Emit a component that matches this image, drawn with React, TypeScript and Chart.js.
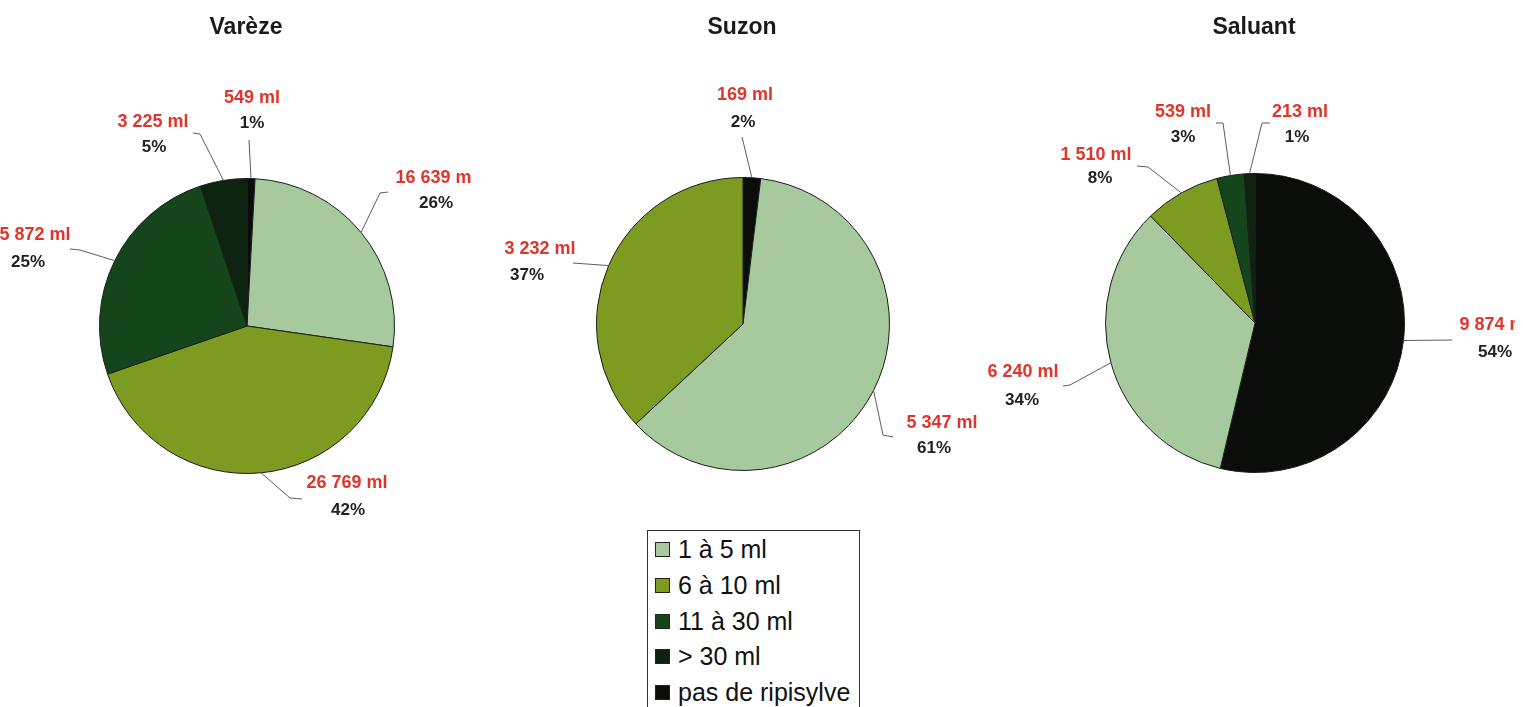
import React, { useEffect, useRef } from 'react';
import { Chart, registerables } from 'chart.js';

Chart.register(...registerables);

const W = 1523;
const H = 707;
const FONT = '"Liberation Sans", Arial, Helvetica, sans-serif';

// ---- data ----
const CATEGORIES = ['1 à 5 ml', '6 à 10 ml', '11 à 30 ml', '> 30 ml', 'pas de ripisylve'];
const TITLES = ['Varèze', 'Suzon', 'Saluant'];
const VAREZE = [16639, 26769, 15872, 3225, 549];
const SUZON = [5347, 3232, 0, 0, 169];
const SALUANT = [6240, 1510, 539, 213, 9874];
const SERIES = [VAREZE, SUZON, SALUANT];
// order in which the spreadsheet drew the slices, clockwise from 12 o'clock
const DRAW_ORDER = [4, 0, 1, 2, 3];

// ---- styles / layout ----
const COLORS = ['#a6c99d', '#7d9b20', '#15451a', '#0c240f', '#0b0d0b'];
const PIES = [
  { cx: 247, cy: 326, r: 148 },
  { cx: 743, cy: 324, r: 147 },
  { cx: 1255, cy: 323, r: 150 },
];
const TITLE_Y = 28;

type LabelLayout = { t: [number, number]; p: [number, number]; path: [number, number][]; clipX?: number };

// label text offsets and leader-line bends, relative to each pie centre, by category index
const LABEL_LAYOUT: Record<number, LabelLayout>[] = [
  {
    0: { t: [189, -148], p: [189, -123], path: [[133, -133], [141, -134]], clipX: 225 },
    1: { t: [100, 157], p: [101, 184], path: [[43, 172], [55, 173]] },
    2: { t: [-217, -91], p: [-219, -64], path: [[-167, -76], [-177, -77]] },
    3: { t: [-94, -204], p: [-93, -179], path: [[-47, -192], [-54, -193]] },
    4: { t: [5, -228], p: [5, -203], path: [[2, -186]] },
  },
  {
    0: { t: [199, 99], p: [191, 124], path: [[140, 111], [150, 113]] },
    1: { t: [-203, -75], p: [-216, -49], path: [[-170, -61]] },
    4: { t: [2, -229], p: [0, -202], path: [[-1, -187]] },
  },
  {
    0: { t: [-232, 49], p: [-233, 77], path: [[-185, 62], [-192, 63]] },
    1: { t: [-159, -168], p: [-155, -145], path: [[-107, -156], [-118, -157]] },
    2: { t: [-72, -211], p: [-72, -186], path: [[-32, -200], [-39, -200]] },
    3: { t: [45, -211], p: [42, -186], path: [[7, -200], [15, -200]] },
    4: { t: [240, 2], p: [240, 29], path: [[197, 17]], clipX: 260 },
  },
];

const fmt = (v: number) => String(v).replace(/\B(?=(\d{3})+(?!\d))/g, ' ');

function makeLabelPlugin(index: number, cats: number[], values: number[], total: number) {
  return {
    id: 'pieLabels' + index,
    afterDraw(chart: any) {
      const ctx: CanvasRenderingContext2D = chart.ctx;
      const meta = chart.getDatasetMeta(0);
      ctx.save();
      let cxTitle = 0;
      meta.data.forEach((arc: any, i: number) => {
        const { x, y, startAngle, endAngle, outerRadius } = arc.getProps(
          ['x', 'y', 'startAngle', 'endAngle', 'outerRadius'],
          true
        );
        cxTitle = x;
        const cat = cats[i];
        const L = LABEL_LAYOUT[index][cat];
        if (!L) return;
        const mid = (startAngle + endAngle) / 2;
        const ex = x + Math.cos(mid) * outerRadius;
        const ey = y + Math.sin(mid) * outerRadius;
        ctx.beginPath();
        ctx.moveTo(ex, ey);
        L.path.forEach(([dx, dy]) => ctx.lineTo(x + dx, y + dy));
        ctx.strokeStyle = '#5c5c5c';
        ctx.lineWidth = 1;
        ctx.stroke();

        const valueText = fmt(values[cat]) + ' ml';
        const pctText = Math.round((values[cat] / total) * 100) + '%';
        ctx.textBaseline = 'middle';
        ctx.textAlign = 'center';
        ctx.font = 'bold 18px ' + FONT;
        ctx.fillStyle = '#e0352b';
        if (L.clipX !== undefined) {
          ctx.save();
          ctx.beginPath();
          ctx.rect(0, y + L.t[1] - 15, x + L.clipX, 30);
          ctx.clip();
          ctx.fillText(valueText, x + L.t[0], y + L.t[1]);
          ctx.restore();
        } else {
          ctx.fillText(valueText, x + L.t[0], y + L.t[1]);
        }
        ctx.font = 'bold 17px ' + FONT;
        ctx.fillStyle = '#222222';
        ctx.fillText(pctText, x + L.p[0], y + L.p[1]);
      });
      ctx.font = 'bold 23px ' + FONT;
      ctx.fillStyle = '#1a1a1a';
      ctx.textAlign = 'center';
      ctx.textBaseline = 'middle';
      ctx.fillText(TITLES[index], cxTitle - 1, TITLE_Y);
      ctx.restore();
    },
  };
}

function PieCanvas({ index }: { index: number }) {
  const ref = useRef<HTMLCanvasElement>(null);
  useEffect(() => {
    const pie = PIES[index];
    const values = SERIES[index];
    const cats = DRAW_ORDER.filter((c) => values[c] > 0);
    const total = values.reduce((a, b) => a + b, 0);
    const chart = new Chart(ref.current as HTMLCanvasElement, {
      type: 'pie',
      data: {
        labels: cats.map((c) => CATEGORIES[c]),
        datasets: [
          {
            data: cats.map((c) => values[c]),
            backgroundColor: cats.map((c) => COLORS[c]),
            borderColor: '#1c1c1c',
            borderWidth: 1,
          },
        ],
      },
      options: {
        responsive: false,
        animation: false,
        events: [],
        layout: {
          padding: {
            left: pie.cx - pie.r,
            right: W - pie.cx - pie.r,
            top: pie.cy - pie.r,
            bottom: H - pie.cy - pie.r,
          },
        },
        plugins: {
          legend: { display: false },
          tooltip: { enabled: false },
          title: { display: false },
        },
      },
      plugins: [makeLabelPlugin(index, cats, values, total)],
    } as any);
    return () => chart.destroy();
  }, [index]);
  return (
    <canvas
      ref={ref}
      width={W}
      height={H}
      style={{ position: 'absolute', left: 0, top: 0, width: W, height: H }}
    />
  );
}

function Legend() {
  return (
    <div
      style={{
        position: 'absolute',
        left: 647,
        top: 530,
        width: 213,
        height: 190,
        border: '1px solid #333',
        boxSizing: 'border-box',
        background: '#fff',
        paddingTop: 1,
        paddingLeft: 7,
        fontFamily: FONT,
        fontSize: 25,
        color: '#111',
      }}
    >
      {CATEGORIES.map((c, i) => (
        <div key={c} style={{ display: 'flex', alignItems: 'center', height: 35.7, whiteSpace: 'nowrap' }}>
          <span
            style={{
              display: 'inline-block',
              width: 15,
              height: 15,
              boxSizing: 'border-box',
              border: '1px solid #222',
              background: COLORS[i],
              marginRight: 8,
              flex: '0 0 auto',
            }}
          />
          <span>{c}</span>
        </div>
      ))}
    </div>
  );
}

export default function App() {
  return (
    <div
      style={{
        position: 'fixed',
        left: 0,
        top: 0,
        width: W,
        height: H,
        background: '#fff',
        overflow: 'hidden',
      }}
    >
      {TITLES.map((_, i) => (
        <PieCanvas key={i} index={i} />
      ))}
      <Legend />
    </div>
  );
}
